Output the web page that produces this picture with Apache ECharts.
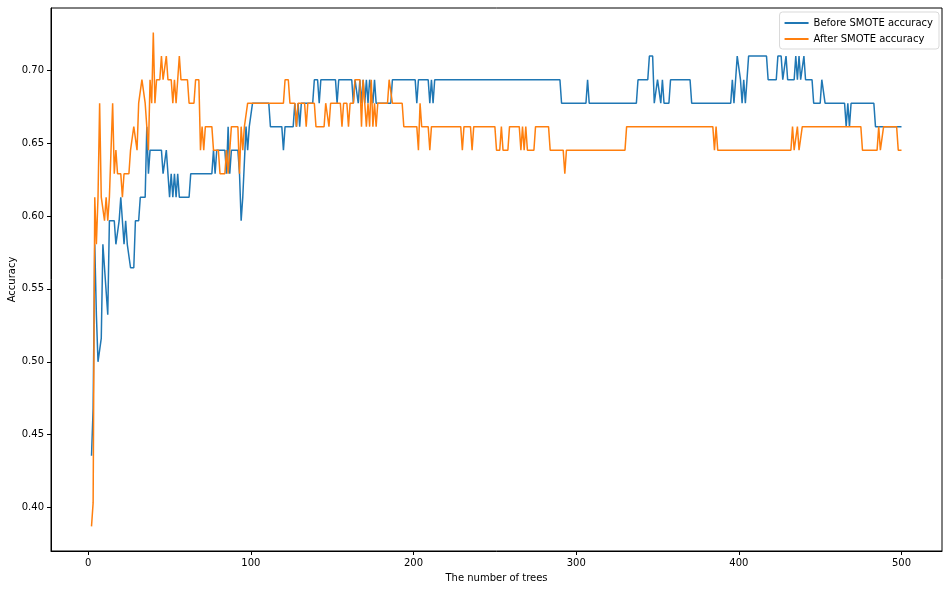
<!DOCTYPE html>
<html>
<head>
<meta charset="utf-8">
<title>SMOTE accuracy</title>
<script src="https://cdn.jsdelivr.net/npm/echarts@6/dist/echarts.min.js"></script>
<style>
  html, body { margin: 0; padding: 0; background: #fff; }
  #chart { width: 950px; height: 589px; }
</style>
</head>
<body>
<div id="chart"></div>
<script>
// tick labels
const xTicks = [0, 100, 200, 300, 400, 500];
const yTicks = [0.40, 0.45, 0.50, 0.55, 0.60, 0.65, 0.70];

// [number of trees, accuracy] (line vertices; flat runs given by their ends)
const beforeSmote = [
  [2,0.4355],[3,0.4677],[4,0.5806],[5,0.5323],[6,0.5000],[7,0.5000],[8,0.5161],[9,0.5806],
  [10,0.5645],[11,0.5645],[12,0.5323],[13,0.5968],[16,0.5968],[17,0.5806],[18,0.5806],
  [19,0.5968],[20,0.6129],[21,0.5968],[22,0.5806],[23,0.5968],[24,0.5806],[25,0.5806],
  [26,0.5645],[28,0.5645],[29,0.5968],[31,0.5968],[32,0.6129],[35,0.6129],[36,0.6613],
  [37,0.6290],[38,0.6452],[45,0.6452],[46,0.6290],[47,0.6290],[48,0.6452],[49,0.6290],
  [50,0.6129],[51,0.6290],[52,0.6129],[53,0.6290],[54,0.6129],[55,0.6290],[56,0.6129],
  [62,0.6129],[63,0.6290],[76,0.6290],[77,0.6452],[78,0.6290],[79,0.6452],[84,0.6452],
  [85,0.6290],[86,0.6613],[87,0.6290],[88,0.6452],[92,0.6452],[93,0.6290],[94,0.5968],
  [95,0.6129],[96,0.6129],[97,0.6613],[98,0.6452],[99,0.6613],[100,0.6613],[101,0.6774],
  [111,0.6774],[112,0.6613],[119,0.6613],[120,0.6452],[121,0.6613],[126,0.6613],
  [127,0.6774],[128,0.6613],[129,0.6774],[130,0.6613],[131,0.6774],[138,0.6774],
  [139,0.6935],[141,0.6935],[142,0.6774],[143,0.6935],[152,0.6935],[153,0.6774],
  [154,0.6935],[162,0.6935],[163,0.6774],[164,0.6935],[165,0.6935],[166,0.6774],
  [167,0.6935],[168,0.6774],[169,0.6935],[170,0.6774],[171,0.6935],[172,0.6774],
  [173,0.6935],[174,0.6935],[175,0.6774],[176,0.6935],[177,0.6774],[186,0.6774],
  [187,0.6935],[201,0.6935],[202,0.6774],[203,0.6935],[209,0.6935],[210,0.6774],
  [211,0.6935],[212,0.6774],[213,0.6935],[290,0.6935],[291,0.6774],[306,0.6774],
  [307,0.6935],[308,0.6774],[337,0.6774],[338,0.6935],[344,0.6935],[345,0.7097],
  [347,0.7097],[348,0.6774],[349,0.6774],[350,0.6935],[351,0.6935],[352,0.6774],
  [353,0.6935],[354,0.6774],[357,0.6774],[358,0.6935],[370,0.6935],[371,0.6774],
  [395,0.6774],[396,0.6935],[397,0.6774],[398,0.6935],[399,0.7097],[400,0.7097],
  [401,0.6935],[402,0.6774],[403,0.6935],[404,0.6774],[405,0.6935],[406,0.7097],
  [417,0.7097],[418,0.6935],[423,0.6935],[424,0.7097],[426,0.7097],[427,0.6935],
  [428,0.6935],[429,0.7097],[430,0.6935],[434,0.6935],[435,0.7097],[436,0.6935],
  [437,0.7097],[438,0.6935],[439,0.6935],[440,0.7097],[441,0.6935],[445,0.6935],
  [446,0.6774],[450,0.6774],[451,0.6935],[452,0.6935],[453,0.6774],[465,0.6774],
  [466,0.6613],[467,0.6774],[468,0.6613],[469,0.6774],[483,0.6774],[484,0.6613],
  [500,0.6613]
];

const afterSmote = [
  [2,0.3871],[3,0.4032],[4,0.6129],[5,0.5806],[6,0.6129],[7,0.6774],[8,0.6129],[9,0.6129],
  [10,0.5968],[11,0.6129],[12,0.5968],[13,0.6129],[14,0.6129],[15,0.6774],[16,0.6290],
  [17,0.6452],[18,0.6290],[20,0.6290],[21,0.6129],[22,0.6290],[25,0.6290],[26,0.6452],
  [27,0.6452],[28,0.6613],[29,0.6613],[30,0.6452],[31,0.6774],[32,0.6774],[33,0.6935],
  [34,0.6935],[35,0.6774],[36,0.6774],[37,0.6452],[38,0.6935],[39,0.6774],[40,0.7258],
  [41,0.6774],[42,0.6935],[44,0.6935],[45,0.7097],[46,0.6935],[47,0.6935],[48,0.7097],
  [49,0.6935],[51,0.6935],[52,0.6774],[53,0.6935],[54,0.6774],[55,0.6935],[56,0.7097],
  [57,0.6935],[61,0.6935],[62,0.6774],[65,0.6774],[66,0.6935],[68,0.6935],[69,0.6452],
  [70,0.6613],[71,0.6452],[72,0.6613],[76,0.6613],[77,0.6452],[80,0.6452],[81,0.6290],
  [84,0.6290],[85,0.6452],[86,0.6290],[87,0.6452],[88,0.6613],[92,0.6613],[93,0.6290],
  [94,0.6613],[95,0.6452],[96,0.6613],[97,0.6613],[98,0.6774],[120,0.6774],[121,0.6935],
  [123,0.6935],[124,0.6774],[127,0.6774],[128,0.6613],[129,0.6774],[133,0.6774],
  [134,0.6613],[135,0.6774],[139,0.6774],[140,0.6613],[145,0.6613],[146,0.6774],
  [147,0.6774],[148,0.6613],[149,0.6774],[155,0.6774],[156,0.6613],[157,0.6774],
  [159,0.6774],[160,0.6613],[161,0.6774],[163,0.6774],[164,0.6935],[167,0.6935],
  [168,0.6613],[169,0.6935],[170,0.6935],[171,0.6613],[172,0.6774],[173,0.6613],
  [174,0.6935],[175,0.6613],[176,0.6774],[177,0.6613],[178,0.6774],[184,0.6774],
  [185,0.6935],[186,0.6935],[187,0.6774],[193,0.6774],[194,0.6613],[202,0.6613],
  [203,0.6452],[204,0.6774],[205,0.6613],[209,0.6613],[210,0.6452],[211,0.6613],
  [229,0.6613],[230,0.6452],[231,0.6613],[235,0.6613],[236,0.6452],[237,0.6613],
  [250,0.6613],[251,0.6452],[253,0.6452],[254,0.6613],[255,0.6452],[258,0.6452],
  [259,0.6613],[265,0.6613],[266,0.6452],[267,0.6613],[268,0.6452],[269,0.6613],
  [270,0.6452],[274,0.6452],[275,0.6613],[283,0.6613],[284,0.6452],[292,0.6452],
  [293,0.6290],[294,0.6452],[330,0.6452],[331,0.6613],[384,0.6613],[385,0.6452],
  [386,0.6613],[387,0.6452],[432,0.6452],[433,0.6613],[434,0.6452],[435,0.6452],
  [436,0.6613],[437,0.6452],[438,0.6452],[439,0.6613],[475,0.6613],[476,0.6452],
  [485,0.6452],[486,0.6613],[487,0.6452],[488,0.6452],[489,0.6613],[497,0.6613],
  [498,0.6452],[500,0.6452]
];

const seriesNames = ["Before SMOTE accuracy", "After SMOTE accuracy"];
const colors = ["#1f77b4", "#ff7f0e"];

const font = "DejaVu Sans";
const chart = echarts.init(document.getElementById("chart"), null, { renderer: "canvas" });

const option = {
  animation: false,
  backgroundColor: "#fff",
  textStyle: { fontFamily: font },
  grid: {
    left: 51, right: 8, top: 8, bottom: 38,
    containLabel: false,
    outerBoundsMode: "none",
    show: true, borderColor: "#000", borderWidth: 1, backgroundColor: "transparent"
  },
  legend: {
    data: seriesNames,
    orient: "vertical",
    right: 11, top: 12,
    icon: "rect",
    itemWidth: 24, itemHeight: 2,
    itemGap: 6,
    padding: [6, 6, 5, 5],
    backgroundColor: "#fff",
    borderColor: "#d9d9d9", borderWidth: 1, borderRadius: 3,
    textStyle: { fontFamily: font, fontSize: 10, color: "#000" }
  },
  xAxis: {
    type: "value",
    min: -22.9, max: 524.9,
    name: "The number of trees",
    nameLocation: "middle", nameGap: 22,
    nameMoveOverlap: false,
    nameTextStyle: { fontFamily: font, fontSize: 10, color: "#000" },
    splitLine: { show: false },
    axisLine: { show: true, onZero: false, lineStyle: { color: "#000", width: 1 } },
    axisTick: { show: true, length: 4, customValues: xTicks, lineStyle: { color: "#000" } },
    axisLabel: { customValues: xTicks, margin: 7, fontFamily: font, fontSize: 10, color: "#000" }
  },
  yAxis: {
    type: "value",
    min: 0.3702, max: 0.7427,
    name: "Accuracy",
    nameLocation: "middle", nameGap: 34,
    nameMoveOverlap: false,
    nameTextStyle: { fontFamily: font, fontSize: 10, color: "#000" },
    splitLine: { show: false },
    axisLine: { show: true, onZero: false, lineStyle: { color: "#000", width: 1 } },
    axisTick: { show: true, length: 4, customValues: yTicks, lineStyle: { color: "#000" } },
    axisLabel: {
      customValues: yTicks, margin: 7, fontFamily: font, fontSize: 10, color: "#000",
      formatter: v => v.toFixed(2)
    }
  },
  series: [
    {
      name: seriesNames[0], type: "line", data: beforeSmote,
      showSymbol: false, color: colors[0],
      lineStyle: { width: 1.5, color: colors[0] }
    },
    {
      name: seriesNames[1], type: "line", data: afterSmote,
      showSymbol: false, color: colors[1],
      lineStyle: { width: 1.5, color: colors[1] }
    }
  ]
};

chart.setOption(option);
</script>
</body>
</html>
